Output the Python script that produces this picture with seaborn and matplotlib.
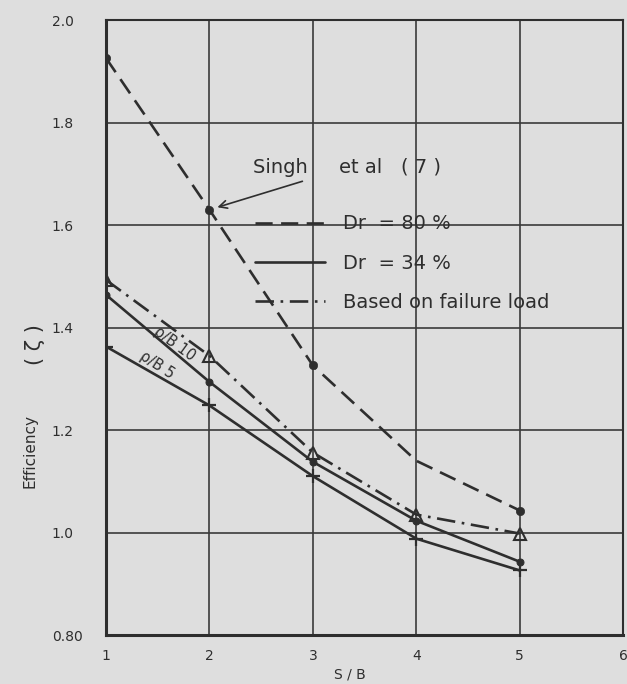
import numpy as np
import pandas as pd
import matplotlib
matplotlib.use("Agg")
import matplotlib.pyplot as plt
import seaborn as sns
from matplotlib.lines import Line2D

# ---- data ----
sb = [1, 2, 3, 4, 5]
singh_dr80 = [1.926, 1.630, 1.326, None, 1.043]      # dashed, filled circles (no marker at 4)
singh_dr80_line = [1.926, 1.630, 1.326, 1.140, 1.043]
failure_load = [1.493, 1.345, 1.156, 1.035, 0.998]   # dash-dot, open triangles
pb10 = [1.464, 1.294, 1.138, 1.023, 0.943]           # solid, circles
pb5 = [1.363, 1.248, 1.110, 0.988, 0.926]            # solid, plus marks

yticks = [0.8, 1.0, 1.2, 1.4, 1.6, 1.8, 2.0]
ytick_labels = ["0.80", "1.0", "1.2", "1.4", "1.6", "1.8", "2.0"]
xticks = [1, 2, 3, 4, 5, 6]
xtick_labels = ["1", "2", "3", "4", "5", "6"]

legend_labels = ["Dr  = 80 %", "Dr  = 34 %", "Based on failure load"]

BG = "#dedede"
INK = "#2e2e2e"

sns.set_style("white")
plt.rcParams["font.family"] = ["DejaVu Sans"]

fig = plt.figure(figsize=(6.27, 6.84), dpi=100, facecolor=BG)
ax = fig.add_axes([0.169, 0.0716, 0.825, 0.899])
ax.set_facecolor(BG)

df80 = pd.DataFrame({"x": sb, "y": singh_dr80_line})
dffl = pd.DataFrame({"x": sb, "y": failure_load})
df10 = pd.DataFrame({"x": sb, "y": pb10})
df5 = pd.DataFrame({"x": sb, "y": pb5})

lw = 1.9
sns.lineplot(data=df80, x="x", y="y", ax=ax, color=INK, lw=lw,
             dashes=False, linestyle=(0, (6.5, 3.2)))
m80 = pd.DataFrame({"x": sb, "y": singh_dr80}).dropna()
sns.scatterplot(data=m80, x="x", y="y", ax=ax, color=INK, s=36, marker="o",
                edgecolor=INK, zorder=5)
sns.lineplot(data=dffl, x="x", y="y", ax=ax, color=INK, lw=lw,
             linestyle=(0, (7, 2.5, 1, 2.5)), marker="^", markersize=9,
             markerfacecolor="none", markeredgecolor=INK, markeredgewidth=1.5)
sns.lineplot(data=df10, x="x", y="y", ax=ax, color=INK, lw=lw,
             marker="o", markersize=5, markeredgecolor=INK)
sns.lineplot(data=df5, x="x", y="y", ax=ax, color=INK, lw=lw,
             marker="+", markersize=10, markeredgewidth=1.6,
             markeredgecolor=INK)

ax.set_xlim(1, 6)
ax.set_ylim(0.8, 2.0)
ax.set_xticks(xticks)
ax.set_xticklabels(xtick_labels)
ax.set_yticks(yticks)
ax.set_yticklabels(ytick_labels)
ax.grid(True, color="#3a3a3a", lw=1.2)
ax.set_axisbelow(True)
ax.tick_params(axis="both", length=0, labelsize=10, colors=INK)
ax.tick_params(axis="y", pad=39)
for lab in ax.get_yticklabels():
    lab.set_horizontalalignment("left")
ax.tick_params(axis="x", pad=10)
for side in ["left", "bottom"]:
    ax.spines[side].set_linewidth(2.2)
for side in ["top", "right"]:
    ax.spines[side].set_linewidth(1.5)
for sp in ax.spines.values():
    sp.set_color(INK)
    sp.set_visible(True)

ax.set_xlabel("S / B", fontsize=10, color=INK)
ax.xaxis.set_label_coords(0.472, -0.053)
ax.set_ylabel("Efficiency", fontsize=11, color=INK)
ax.yaxis.set_label_coords(-0.132, 0.30)
ax.text(-0.138, 0.472, "( ζ )", transform=ax.transAxes, rotation=90,
        fontsize=15, color=INK, ha="center", va="center")

# curve labels
ax.text(1.667, 1.368, "ρ/B 10", rotation=-36, fontsize=10.5, color=INK,
        ha="center", va="center", rotation_mode="anchor")
ax.text(1.49, 1.326, "ρ/B 5", rotation=-33, fontsize=10.5, color=INK,
        ha="center", va="center", rotation_mode="anchor")

# reference annotation
ax.annotate("Singh     et al   ( 7 )", xy=(sb[1], singh_dr80[1]),
            xytext=(2.42, 1.712), fontsize=14, color=INK,
            ha="left", va="center",
            arrowprops=dict(arrowstyle="->", color=INK, lw=1.2,
                            shrinkA=2, shrinkB=6))

handles = [
    Line2D([], [], color=INK, lw=lw, linestyle=(0, (6.5, 3.2))),
    Line2D([], [], color=INK, lw=lw, linestyle="-"),
    Line2D([], [], color=INK, lw=lw, linestyle=(0, (7, 2.5, 1, 2.5))),
]
leg = ax.legend(handles, legend_labels, loc="upper left",
                bbox_to_anchor=(0.27, 0.70), frameon=False, fontsize=14,
                handlelength=3.6, handletextpad=0.9, labelspacing=1.05,
                borderpad=0, labelcolor=INK)

fig.savefig("out.png", dpi=100, facecolor=BG)
